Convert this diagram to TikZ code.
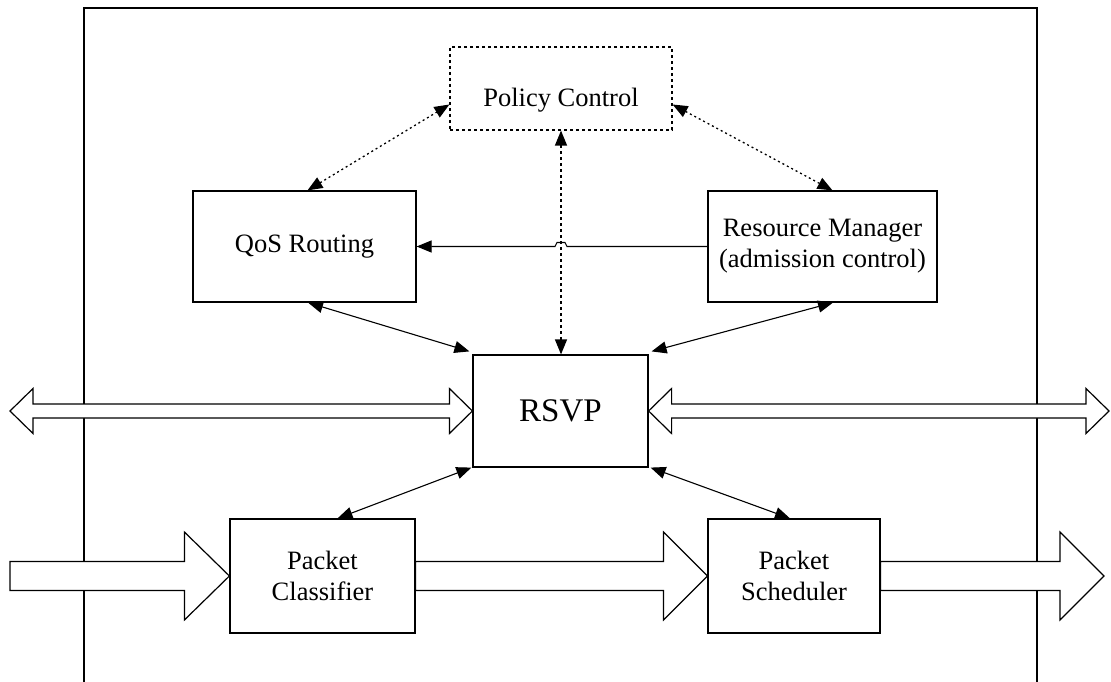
\documentclass[tikz,border=0pt]{standalone}
\usepackage{fontspec}
\setmainfont{Liberation Serif}
\usetikzlibrary{arrows.meta,calc}

% right-pointing block arrow from #1 to #2: shaft half-width #3, head half-width #4, head length #5
\newcommand\fatright[5]{%
  \filldraw[fatarrow] let \p1=(#1), \p2=(#2) in
    (\x1,\y1-#3) -- (\x2-#5,\y1-#3) -- (\x2-#5,\y1-#4) -- (\x2,\y1)
    -- (\x2-#5,\y1+#4) -- (\x2-#5,\y1+#3) -- (\x1,\y1+#3) -- cycle;}
% double-headed block arrow between #1 and #2
\newcommand\fatboth[5]{%
  \filldraw[fatarrow] let \p1=(#1), \p2=(#2) in
    (\x1,\y1) -- (\x1+#5,\y1+#4) -- (\x1+#5,\y1+#3) -- (\x2-#5,\y1+#3)
    -- (\x2-#5,\y1+#4) -- (\x2,\y1) -- (\x2-#5,\y1-#4) -- (\x2-#5,\y1-#3)
    -- (\x1+#5,\y1-#3) -- (\x1+#5,\y1-#4) -- cycle;}

\begin{document}
\begin{tikzpicture}[x=1pt,y=-1pt,
  box/.style={draw, line width=1.2pt, fill=white, inner sep=0pt, align=center,
              font=\fontsize{26.5}{31}\selectfont},
  fatarrow/.style={draw, line width=1.2pt, fill=white, line join=miter},
  conn/.style={line width=1.1pt, {Triangle[length=15pt,width=12pt]}-{Triangle[length=15pt,width=12pt]}},
  dotconn/.style={conn, line width=1.3pt, dash pattern=on 2pt off 3pt},
]
\useasboundingbox (0,0) rectangle (1111,682);

% outer frame (open at the bottom)
\draw[line width=1.6pt] (84,690) -- (84,8) -- (1037,8) -- (1037,690);

% blocks
\node[box, dash pattern=on 3pt off 3pt, minimum width=222pt, minimum height=83pt,
      text height=42pt, text depth=6pt]
  (pol) at (561,88.5) {Policy Control};
\node[box, minimum width=223pt, minimum height=111pt] (qos) at (304.5,246.5) {QoS Routing};
\node[box, minimum width=229pt, minimum height=111pt] (rm) at (822.5,246.5)
  {Resource Manager\\(admission control)};
\node[box, minimum width=175pt, minimum height=112pt, font=\fontsize{33}{38}\selectfont]
  (rsvp) at (560.5,411) {RSVP};
\node[box, minimum width=185pt, minimum height=114pt] (pcl) at (322.5,576) {Packet\\Classifier};
\node[box, minimum width=172pt, minimum height=114pt] (psc) at (794,576) {Packet\\Scheduler};

% free ends of the data-path arrows
\coordinate (midL) at (10,411);
\coordinate (midR) at (1109,411);
\coordinate (botL) at (10,576);
\coordinate (botR) at (1104,576);

% block arrows: signalling path through RSVP, data path through classifier and scheduler
\fatboth{midL}{rsvp.west}{7pt}{22.5pt}{23pt}
\fatboth{rsvp.east}{midR}{7pt}{22.5pt}{23pt}
\fatright{botL}{pcl.west}{14.5pt}{44pt}{45pt}
\fatright{pcl.east}{psc.west}{14.5pt}{44pt}{44pt}
\fatright{psc.east}{botR}{14.5pt}{44pt}{44pt}

% policy control links
\draw[dotconn] ([xshift=3pt]qos.north) -- ([yshift=-16pt]pol.west);
\draw[dotconn] ([yshift=-16pt]pol.east) -- ([xshift=10pt]rm.north);
\draw[conn, line width=1.3pt, dash pattern=on 3pt off 3pt] (pol.south) -- (pol.south |- rsvp.north);

% resource manager to QoS routing, hopping over the policy link
\draw[line width=1.1pt, -{Triangle[length=15pt,width=12pt]}]
  (rm.west) -- ($(pol.south |- rm.west)+(6,0)$) -- ++(-2,-4) -- ++(-8,0) -- ++(-2,4)
  -- (qos.east);

% RSVP links
\draw[conn] ([xshift=3.5pt]qos.south) -- ([shift={(-3pt,3pt)}]rsvp.north west);
\draw[conn] ([xshift=10.5pt]rm.south) -- ([shift={(3pt,3pt)}]rsvp.north east);
\draw[conn] ([shift={(-1pt,0pt)}]rsvp.south west) -- ([xshift=15pt]pcl.north);
\draw[conn] ([shift={(2pt,0pt)}]rsvp.south east) -- ([xshift=-4pt]psc.north);
\end{tikzpicture}
\end{document}
